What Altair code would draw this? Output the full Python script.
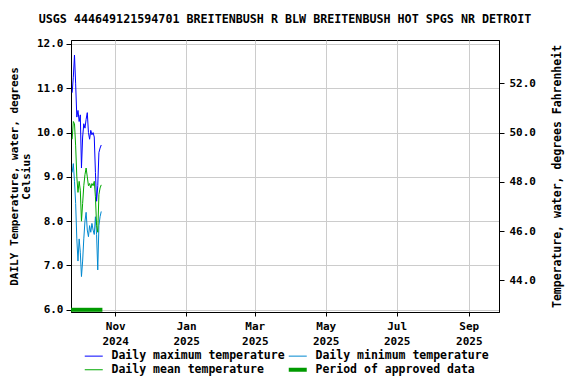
import altair as alt
import pandas as pd

# ---- data ----
start_date = "2024-09-25"
tmax = [10.9, 11.25, 11.75, 11.1, 10.35, 10.5, 10.25, 10.4, 9.2, 9.9, 10.2, 10.1, 10.3,
        10.45, 10.0, 9.85, 10.05, 9.95, 10.0, 9.9, 9.1, 8.45, 8.8, 9.55, 9.65, 9.72]
tmin = [9.1, 9.3, 8.9, 8.4, 7.6, 7.1, 7.6, 7.3, 6.75, 7.1, 7.6, 8.0, 8.2,
        7.8, 7.65, 7.9, 7.75, 7.95, 7.8, 7.7, 8.1, 7.7, 6.9, 7.9, 8.1, 8.22]
tmean = [9.85, 10.25, 10.2, 9.7, 9.0, 8.65, 8.9, 8.7, 8.0, 8.4, 8.8, 9.05, 9.2,
         9.0, 8.8, 8.85, 8.75, 8.85, 8.8, 8.9, 8.55, 7.9, 7.75, 8.6, 8.75, 8.82]
approved_start = ["2024-09-24"]
approved_end = ["2024-10-21"]
approved_level = [6.0]

series_names = ["Daily maximum temperature", "Daily minimum temperature",
                "Daily mean temperature", "Period of approved data"]
series_colors = ["#0000ff", "#0088d0", "#00a800", "#009a00"]

x_domain = ["2024-09-24", "2025-09-27"]
c_domain = [5.95, 12.09]
f_domain = [c_domain[0] * 1.8 + 32, c_domain[1] * 1.8 + 32]
c_ticks = [6, 7, 8, 9, 10, 11, 12]
f_ticks = [44, 46, 48, 50, 52]
month_ticks = [(2024, 11), (2025, 1), (2025, 3), (2025, 5), (2025, 7), (2025, 9)]

title = "USGS 444649121594701 BREITENBUSH R BLW BREITENBUSH HOT SPGS NR DETROIT"

# ---- tables ----
dates = pd.date_range(start_date, periods=len(tmax), freq="D")
lines_df = pd.concat([
    pd.DataFrame({"date": dates, "value": tmax, "series": series_names[0]}),
    pd.DataFrame({"date": dates, "value": tmin, "series": series_names[1]}),
    pd.DataFrame({"date": dates, "value": tmean, "series": series_names[2]}),
])
mean_df = pd.DataFrame({"date": dates, "value": tmean})
approved_df = pd.DataFrame({"start": pd.to_datetime(approved_start),
                            "end": pd.to_datetime(approved_end),
                            "value": approved_level,
                            "series": series_names[3]})

FONT = "DejaVu Sans Mono"

xscale = alt.Scale(domain=x_domain, nice=False)
x_axis = alt.Axis(
    values=[alt.DateTime(year=y, month=m, date=1) for y, m in month_ticks],
    labelExpr="[timeFormat(datum.value, '%b'), timeFormat(datum.value, '%Y')]",
    title=None, grid=True, gridColor="#cccccc", tickSize=4, labelPadding=4,
    labelLineHeight=15, labelFontSize=11,
)
cscale = alt.Scale(domain=c_domain, nice=False, zero=False)
c_axis = alt.Axis(values=c_ticks, format=".1f", grid=True, gridColor="#cccccc",
                  tickSize=5, labelPadding=3,
                  title=["DAILY Temperature, water, degrees", "Celsius"],
                  titlePadding=5, titleLineHeight=12, titleFontSize=11)

color = alt.Color(
    "series:N", scale=alt.Scale(domain=series_names, range=series_colors),
    legend=alt.Legend(
        title=None, orient="none", legendX=17, legendY=310,
        direction="horizontal", columns=2, columnPadding=-5, rowPadding=-1,
        symbolType="stroke", symbolSize=324, labelOffset=12, padding=0,
        symbolStrokeWidth={"expr": "datum.value === 'Period of approved data' ? 4 : 1"},
    ),
)

lines = alt.Chart(lines_df).mark_line(interpolate="linear", strokeWidth=1).encode(
    x=alt.X("date:T", scale=xscale, axis=x_axis),
    y=alt.Y("value:Q", scale=cscale, axis=c_axis),
    color=color,
)

approved = alt.Chart(approved_df).mark_rule(strokeWidth=4).encode(
    x=alt.X("start:T", scale=xscale, axis=x_axis),
    x2="end:T",
    y=alt.Y("value:Q", scale=cscale, axis=c_axis),
    color=color,
)

f_layer = alt.Chart(mean_df).transform_calculate(f="datum.value * 1.8 + 32").mark_line(opacity=0).encode(
    x=alt.X("date:T", scale=xscale, axis=x_axis),
    y=alt.Y("f:Q", scale=alt.Scale(domain=f_domain, nice=False, zero=False),
            axis=alt.Axis(orient="right", values=f_ticks, format=".1f", grid=False,
                          tickSize=5, labelPadding=5, titleAngle=270,
                          title="Temperature, water, degrees Fahrenheit", titlePadding=27)),
)

chart = alt.layer(alt.layer(approved, lines), f_layer).resolve_scale(y="independent").properties(
    width=428, height=272,
    title=alt.TitleParams(title, font=FONT, fontSize=11.7, fontWeight="bold",
                          anchor="middle", offset=12, color="black"),
    autosize=alt.AutoSizeParams(type="none"),
    padding={"left": 63, "top": 32, "right": 69, "bottom": 64},
).configure_view(stroke="black", strokeWidth=1).configure_axis(
    labelFont=FONT, labelFontWeight="bold", labelFontSize=11, labelColor="black",
    titleFont=FONT, titleFontWeight="bold", titleFontSize=11.5, titleColor="black",
    domainColor="black", tickColor="black",
).configure_legend(
    labelFont=FONT, labelFontWeight="bold", labelFontSize=11.5, labelColor="black",
    labelLimit=400,
)

chart.save("out.html", embed_options={"renderer": "svg", "actions": False})
